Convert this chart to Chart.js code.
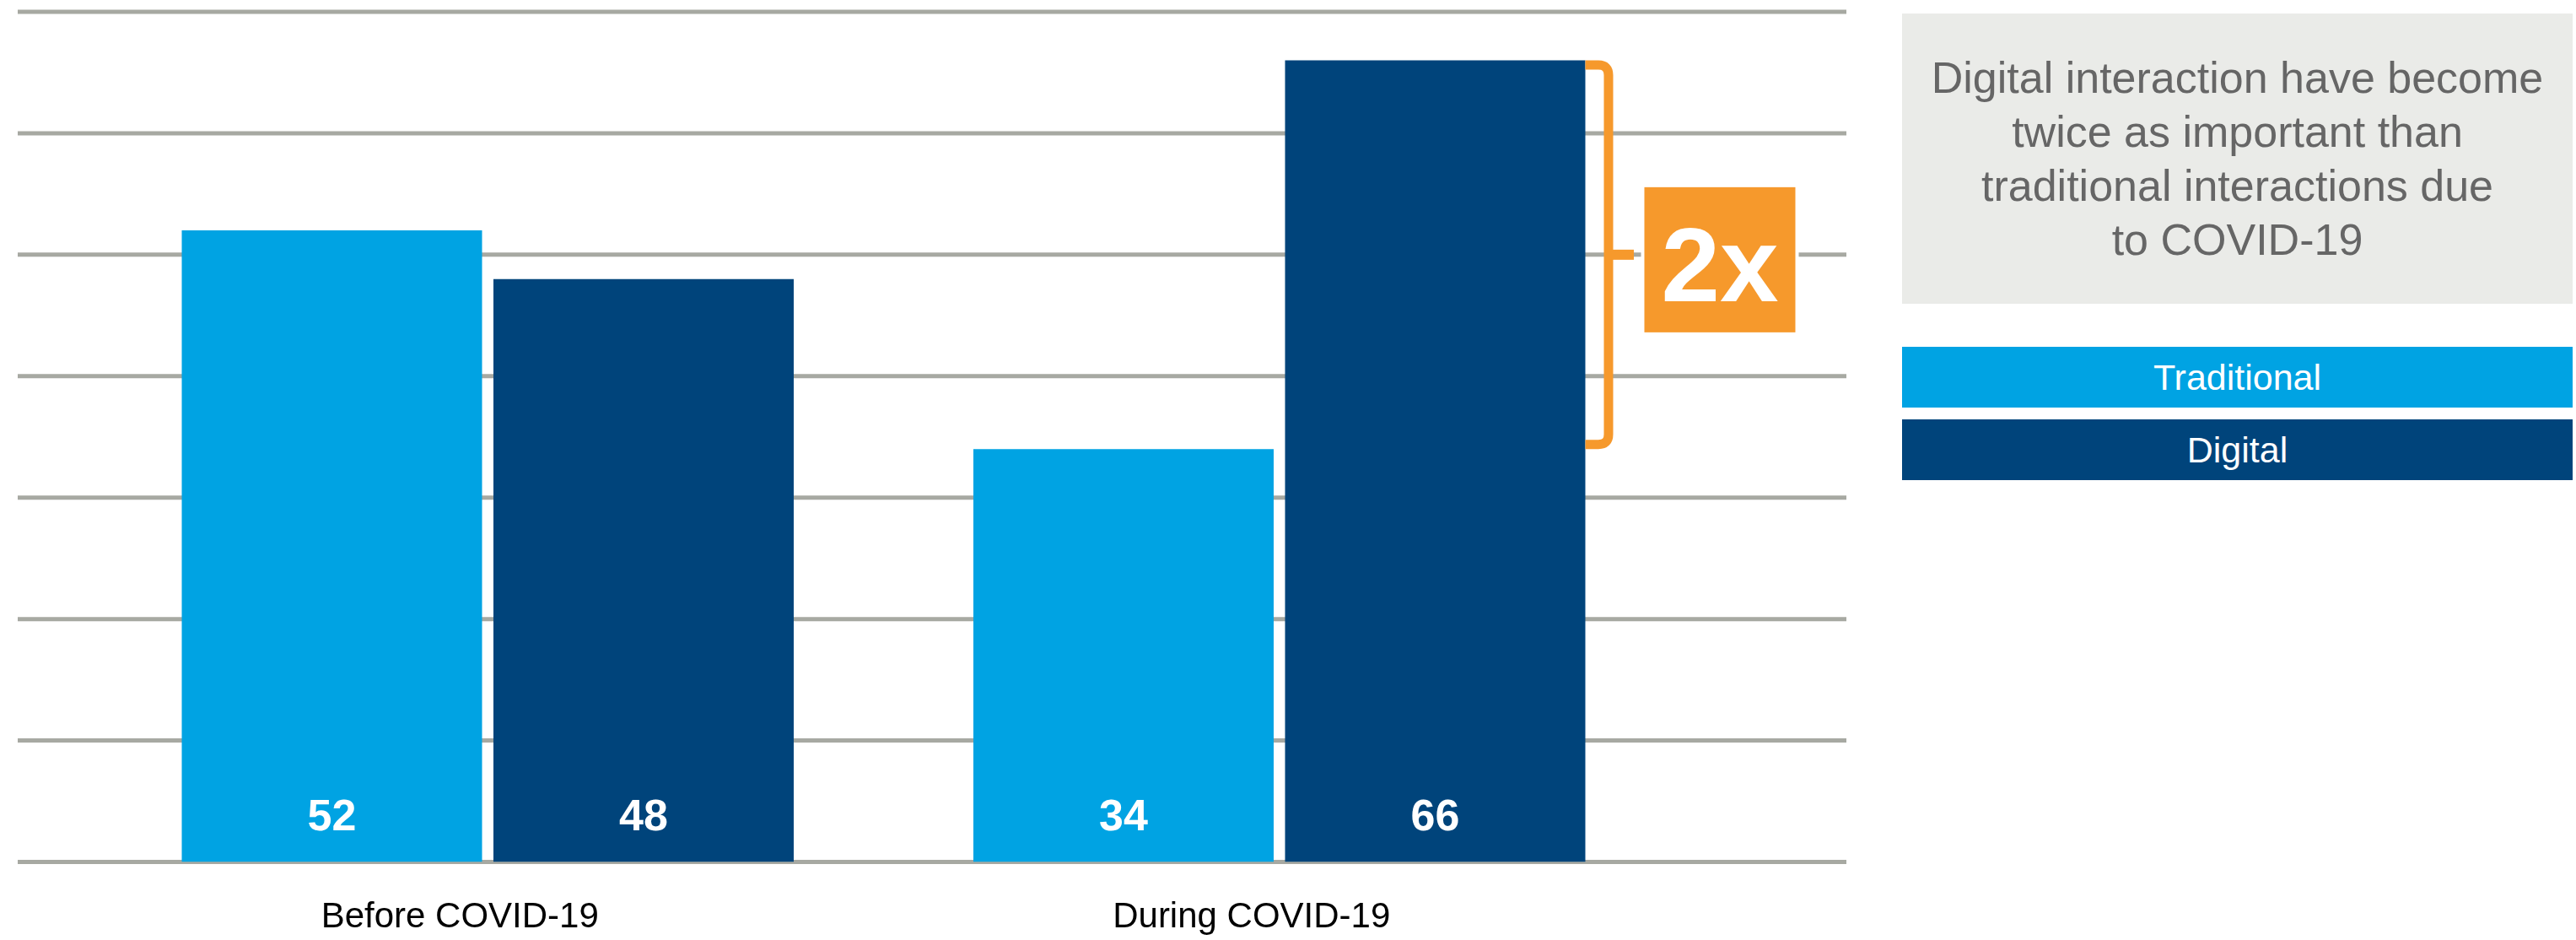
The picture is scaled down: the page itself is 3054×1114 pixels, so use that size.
<!DOCTYPE html>
<html>
<head>
<meta charset="utf-8">
<title>Traditional vs digital interactions</title>
<script src="https://cdn.jsdelivr.net/npm/chart.js@4"></script>
<style>
  html, body { margin: 0; padding: 0; background: #fff; overflow: hidden; }
  #wrap { position: relative; width: 3054px; height: 1114px; font-family: "Liberation Sans", Arial, sans-serif; }
  #chart { position: absolute; left: 0; top: 0; }
  .note {
    position: absolute; left: 2255px; top: 16px; width: 795px; height: 344px;
    background: #eaebe8; color: #666;
    display: flex; align-items: center; justify-content: center;
    text-align: center; font-size: 52px; line-height: 64px;
  }
  .key {
    position: absolute; left: 2255px; width: 795px; height: 72px; line-height: 72px;
    color: #fff; text-align: center; font-size: 43px;
  }
</style>
</head>
<body>
<div id="wrap">
  <canvas id="chart" width="3054" height="1114"></canvas>
  <div class="note">Digital interaction have become<br>twice as important than<br>traditional interactions due<br>to COVID-19</div>
  <div id="legend"></div>
</div>
<script>
const categories = ['Before COVID-19', 'During COVID-19'];
const traditional = [52, 34];
const digital = [48, 66];
const seriesNames = ['Traditional', 'Digital'];
const ratioText = '2x';

const yMax = 70;
const yStep = 10;

const lightBlue = '#00a3e3';
const darkBlue = '#00447b';
const orange = '#f6992c';
const gridGrey = '#a7a9a2';
const font = '"Liberation Sans", Arial, sans-serif';

// horizontal rules run wider than the bar area, so they are drawn by hand
const gridLines = {
    id: 'gridLines',
    beforeDatasetsDraw(chart) {
        const { ctx, scales: { y } } = chart;
        ctx.save();
        ctx.strokeStyle = gridGrey;
        ctx.lineWidth = 5;
        y.ticks.forEach(t => {
            const py = y.getPixelForValue(t.value);
            ctx.beginPath();
            ctx.moveTo(21, py);
            ctx.lineTo(2189, py);
            ctx.stroke();
        });
        ctx.restore();
    }
};

// white numbers near the foot of each bar
const valueLabels = {
    id: 'valueLabels',
    afterDatasetsDraw(chart) {
        const { ctx, scales: { y } } = chart;
        const base = y.getPixelForValue(0);
        ctx.save();
        ctx.font = 'bold 52px ' + font;
        ctx.fillStyle = '#fff';
        ctx.textAlign = 'center';
        ctx.textBaseline = 'alphabetic';
        chart.data.datasets.forEach((ds, i) => {
            chart.getDatasetMeta(i).data.forEach((bar, j) => {
                ctx.fillText(String(ds.data[j]), bar.x, base - 38);
            });
        });
        ctx.restore();
    }
};

// bracket between the two "during" bars with the 2x badge
const ratioBracket = {
    id: 'ratioBracket',
    afterDatasetsDraw(chart) {
        const { ctx, scales: { y } } = chart;
        const bar = chart.getDatasetMeta(1).data[1];
        const lw = 11;
        const xs = bar.x + bar.width / 2;
        const vx = xs + 27.5;
        const top = y.getPixelForValue(digital[1]) + lw / 2;
        const bot = y.getPixelForValue(traditional[1]) - lw / 2;
        const mid = (top + bot) / 2;
        const r = 12;

        ctx.save();
        ctx.strokeStyle = orange;
        ctx.lineWidth = lw;
        ctx.beginPath();
        ctx.moveTo(xs, top);
        ctx.lineTo(vx - r, top);
        ctx.quadraticCurveTo(vx, top, vx, top + r);
        ctx.lineTo(vx, bot - r);
        ctx.quadraticCurveTo(vx, bot, vx - r, bot);
        ctx.lineTo(xs, bot);
        ctx.stroke();

        ctx.lineWidth = 12;
        ctx.beginPath();
        ctx.moveTo(vx, mid);
        ctx.lineTo(vx + 30, mid);
        ctx.stroke();

        const bw = 179, bh = 172;
        const cx = vx + 132;
        const cy = mid + 6;
        ctx.fillStyle = '#fff';
        ctx.fillRect(cx - bw / 2 - 4, cy - bh / 2 - 4, bw + 8, bh + 8);
        ctx.fillStyle = orange;
        ctx.fillRect(cx - bw / 2, cy - bh / 2, bw, bh);

        ctx.fillStyle = '#fff';
        ctx.font = 'bold 125px ' + font;
        ctx.textAlign = 'center';
        ctx.textBaseline = 'alphabetic';
        ctx.fillText(ratioText, cx, cy + 49);
        ctx.restore();
    }
};

const chart = new Chart(document.getElementById('chart'), {
    type: 'bar',
    data: {
        labels: categories,
        datasets: [
            { label: seriesNames[0], data: traditional, backgroundColor: lightBlue },
            { label: seriesNames[1], data: digital, backgroundColor: darkBlue }
        ]
    },
    options: {
        responsive: false,
        animation: false,
        devicePixelRatio: 1,
        categoryPercentage: 0.7874,
        barPercentage: 0.9635,
        layout: {
            padding: { left: 109, right: 1068, top: 14, bottom: 0.5 }
        },
        plugins: {
            legend: { display: false },
            tooltip: { enabled: false }
        },
        scales: {
            x: {
                grid: { display: false, drawTicks: false },
                border: { display: false },
                ticks: {
                    color: '#000',
                    font: { family: font, size: 42 },
                    padding: 41,
                    labelOffset: -33
                },
                afterFit(scale) { scale.height = 92; }
            },
            y: {
                display: false,
                min: 0,
                max: yMax,
                ticks: { stepSize: yStep }
            }
        }
    },
    plugins: [gridLines, valueLabels, ratioBracket]
});

// legend boxes on the right, built from the datasets
const legend = document.getElementById('legend');
chart.data.datasets.forEach((ds, i) => {
    const el = document.createElement('div');
    el.className = 'key';
    el.style.top = (411 + i * 86) + 'px';
    el.style.background = ds.backgroundColor;
    el.textContent = ds.label;
    legend.appendChild(el);
});
</script>
</body>
</html>
